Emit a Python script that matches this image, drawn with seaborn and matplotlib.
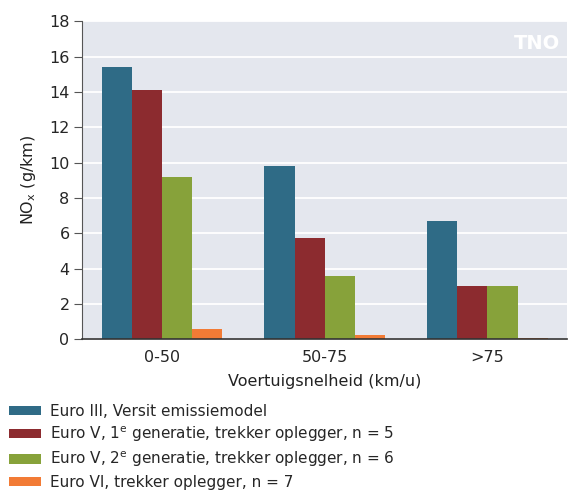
import pandas as pd
import matplotlib
matplotlib.use("Agg")
import matplotlib.pyplot as plt
import seaborn as sns

speed_classes = ["0-50", "50-75", ">75"]
series_names = [
    "Euro III, Versit emissiemodel",
    "Euro V, 1$^{\\mathrm{e}}$ generatie, trekker oplegger, n = 5",
    "Euro V, 2$^{\\mathrm{e}}$ generatie, trekker oplegger, n = 6",
    "Euro VI, trekker oplegger, n = 7",
]
euro3_versit = [15.4, 9.8, 6.7]
euro5_gen1 = [14.1, 5.75, 3.0]
euro5_gen2 = [9.2, 3.55, 3.0]
euro6 = [0.6, 0.22, 0.05]

colors = ["#2f6b86", "#8c2b2f", "#87a23a", "#f27b35"]


def build_frame():
    rows = []
    for name, vals in zip(series_names, [euro3_versit, euro5_gen1, euro5_gen2, euro6]):
        for cls, v in zip(speed_classes, vals):
            rows.append({"Snelheid": cls, "Serie": name, "NOx": v})
    return pd.DataFrame(rows)


def main():
    df = build_frame()
    sns.set_style("white")
    plt.rcParams["font.family"] = ["DejaVu Sans"]

    fig = plt.figure(figsize=(5.7, 4.93), dpi=100)
    ax = fig.add_axes([0.144, 0.312, 0.851, 0.645])
    ax.set_facecolor("#e4e7ee")

    sns.barplot(
        data=df, x="Snelheid", y="NOx", hue="Serie",
        order=speed_classes, hue_order=series_names,
        palette=colors, width=0.74, saturation=1,
        edgecolor="none", ax=ax, legend=True,
    )

    ax.set_xlim(-0.49, 2.49)
    ax.set_ylim(0, 18)
    ax.set_yticks(range(0, 19, 2))
    ax.yaxis.grid(True, color="white", linewidth=1.3)
    ax.set_axisbelow(True)
    for s in ["top", "right"]:
        ax.spines[s].set_visible(False)
    ax.spines["left"].set_color("#555555")
    ax.spines["bottom"].set_color("#333333")
    ax.spines["bottom"].set_linewidth(1.2)
    ax.tick_params(axis="y", length=6, color="#555555", labelsize=11.5, pad=3, left=True)
    ax.tick_params(axis="x", length=0, labelsize=11.5, pad=8)
    ax.set_xlabel("Voertuigsnelheid (km/u)", fontsize=11.5, color="#222222", labelpad=6)
    ax.set_ylabel("NO$_\\mathrm{x}$ (g/km)", fontsize=11.5, color="#222222", labelpad=8)

    ax.text(0.985, 0.93, "TNO", transform=ax.transAxes, ha="right", va="center",
            color="white", fontsize=14, fontweight="bold")

    handles, labels = ax.get_legend_handles_labels()
    ax.get_legend().remove()
    fig.legend(handles, labels, loc="upper left", bbox_to_anchor=(0.0, 0.2),
               frameon=False, fontsize=11, handlelength=2.1, handleheight=0.55,
               handletextpad=0.6, labelspacing=0.38, borderaxespad=0.2)

    fig.savefig("out.png", dpi=100)


if __name__ == "__main__":
    main()
